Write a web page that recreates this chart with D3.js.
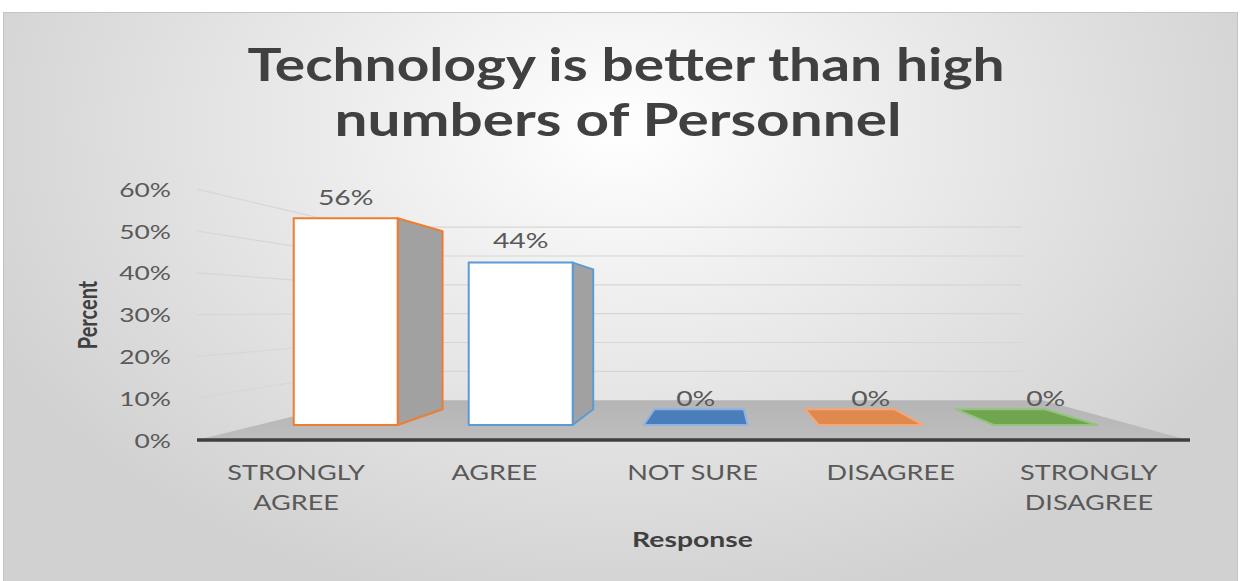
<!DOCTYPE html>
<html>
<head>
<meta charset="utf-8">
<script src="https://cdn.jsdelivr.net/npm/d3@7"></script>
<style>
  html, body { margin: 0; padding: 0; background: #ffffff; }
  svg { display: block; }
  text { font-family: Lato, "Open Sans", sans-serif; }
</style>
</head>
<body>
<svg id="chart" width="1241" height="581"></svg>
<script>
// ---- data ----
const categories = ["STRONGLY AGREE", "AGREE", "NOT SURE", "DISAGREE", "STRONGLY DISAGREE"];
const categoryLines = [["STRONGLY", "AGREE"], ["AGREE"], ["NOT SURE"], ["DISAGREE"], ["STRONGLY", "DISAGREE"]];
const percents = [0.56, 0.44, 0, 0, 0];
const valueLabels = ["56%", "44%", "0%", "0%", "0%"];
const yTicks = [0, 0.1, 0.2, 0.3, 0.4, 0.5, 0.6];
const barStrokes = ["#ED7D31", "#5B9BD5", "#8DB4E2", "#F4A677", "#93C47D"];
const barFills = ["#ffffff", "#ffffff", "#4A7EBB", "#E0894F", "#6FA54F"];
const titleLines = ["Technology is better than high", "numbers of Personnel"];
const xTitle = "Response";
const yTitle = "Percent";

// ---- layout ----
const W = 1241, H = 581;
const SX = 1.32;            // horizontal stretch applied to all text
const VX = 720, VY = 311.6; // vanishing point of the 3-D view
const S_WALL = 0.69;        // depth of the back wall
const S_FRONT = 0.883;      // depth of the bar fronts
const S_BACK = 0.76;        // depth of the bar backs
const S_LABEL = 0.86;
const titleWidths = [757, 567];

const svg = d3.select("#chart");

const x = d3.scaleBand().domain(categories).range([197, 1188]).padding(0);
const y = d3.scaleLinear().domain([0, 0.6]).range([440, 189.2]);
const fmt = d3.format(".0%");

// project a point (front-plane x, value, depth scale) onto the screen
function proj(X, v, s) {
  return [VX + s * (X - VX), VY + s * (y(v) - VY)];
}
const line = d3.line();

// ---- background ----
const defs = svg.append("defs");
const bg = defs.append("radialGradient").attr("id", "bgGrad")
  .attr("gradientUnits", "userSpaceOnUse")
  .attr("cx", 620).attr("cy", 130).attr("r", 700)
  .attr("gradientTransform", "translate(620,130) scale(1,0.7) translate(-620,-130)");
bg.append("stop").attr("offset", 0).attr("stop-color", "#ffffff");
bg.append("stop").attr("offset", 0.4).attr("stop-color", "#ececec");
bg.append("stop").attr("offset", 1).attr("stop-color", "#d1d1d1");

const floorGrad = defs.append("linearGradient").attr("id", "floorGrad")
  .attr("x1", 0).attr("y1", 0).attr("x2", 0).attr("y2", 1);
floorGrad.append("stop").attr("offset", 0).attr("stop-color", "#b5b5b5");
floorGrad.append("stop").attr("offset", 1).attr("stop-color", "#bdbdbd");

svg.append("rect").attr("x", 3.5).attr("y", 12.5).attr("width", 1234).attr("height", 570)
  .attr("fill", "url(#bgGrad)").attr("stroke", "#c4c4c4").attr("stroke-width", 1);

// ---- title ----
const title = svg.append("g");
titleLines.forEach((t, i) => {
  title.append("text")
    .attr("x", [626, 618][i]).attr("y", 81 + i * 55)
    .attr("text-anchor", "middle")
    .attr("font-size", 45).attr("font-weight", 700)
    .attr("textLength", titleWidths[i]).attr("lengthAdjust", "spacingAndGlyphs")
    .attr("fill", "#404040")
    .text(t);
});

// ---- floor ----
const [x0, x1] = x.range();
svg.append("path")
  .attr("d", line([proj(x0, 0, 1), proj(x1, 0, 1), proj(x1, 0, S_WALL), proj(x0, 0, S_WALL)]) + "Z")
  .attr("fill", "url(#floorGrad)");

// ---- gridlines: side wall + back wall ----
const grid = svg.append("g").attr("stroke", "#d6d6d6").attr("stroke-width", 1.2).attr("fill", "none");
yTicks.filter(v => v > 0).forEach(v => {
  grid.append("path").attr("d", line([proj(x0, v, 1), proj(x0, v, S_WALL), proj(x1 - 30, v, S_WALL)]));
});

// ---- bars ----
const barW = x.bandwidth() * 0.594;
const bars = svg.append("g");
categories.forEach((c, i) => {
  const v = percents[i];
  const X0 = x(c) + (x.bandwidth() - barW) / 2, X1 = X0 + barW;
  const g = bars.append("g").attr("stroke", barStrokes[i]).attr("stroke-width", 2)
    .attr("stroke-linejoin", "round");
  if (v === 0) {
    g.append("path")
      .attr("d", line([proj(X0, 0, S_FRONT), proj(X1, 0, S_FRONT), proj(X1, 0, S_BACK), proj(X0, 0, S_BACK)]) + "Z")
      .attr("fill", barFills[i]);
    return;
  }
  // visible side face
  const sideX = X1 < VX ? X1 : X0;
  g.append("path")
    .attr("d", line([proj(sideX, v, S_FRONT), proj(sideX, v, S_BACK), proj(sideX, 0, S_BACK), proj(sideX, 0, S_FRONT)]) + "Z")
    .attr("fill", "#a1a1a1");
  g.append("path")
    .attr("d", line([proj(X0, v, S_FRONT), proj(X1, v, S_FRONT), proj(X1, 0, S_FRONT), proj(X0, 0, S_FRONT)]) + "Z")
    .attr("fill", barFills[i]);
});

// ---- axis line ----
svg.append("path")
  .attr("d", line([proj(x0, 0, 1), proj(x1 + 2, 0, 1)]))
  .attr("stroke", "#3f3f3f").attr("stroke-width", 3.5);

// ---- value labels ----
categories.forEach((c, i) => {
  const cx = proj(x(c) + x.bandwidth() / 2, percents[i], S_FRONT)[0];
  const cy = proj(x(c) + x.bandwidth() / 2, percents[i], S_LABEL)[1] - 16;
  svg.append("text")
    .attr("transform", `translate(${cx},${cy}) scale(${SX},1)`)
    .attr("text-anchor", "middle").attr("font-size", 21.5).attr("fill", "#595959")
    .text(valueLabels[i]);
});

// ---- y tick labels ----
yTicks.forEach(v => {
  svg.append("text")
    .attr("transform", `translate(171,${y(v) + 7.5}) scale(${SX},1)`)
    .attr("text-anchor", "end").attr("font-size", 20).attr("fill", "#595959")
    .text(fmt(v));
});

// ---- category labels ----
categories.forEach((c, i) => {
  const cx = x(c) + x.bandwidth() / 2;
  categoryLines[i].forEach((t, j) => {
    svg.append("text")
      .attr("transform", `translate(${cx},${480 + j * 29.5}) scale(${SX},1)`)
      .attr("text-anchor", "middle").attr("font-size", 20.5).attr("fill", "#595959")
      .text(t);
  });
});

// ---- axis titles ----
svg.append("text")
  .attr("transform", `translate(${(x0 + x1) / 2},547) scale(${SX},1)`)
  .attr("text-anchor", "middle").attr("font-size", 21.5).attr("font-weight", 700)
  .attr("fill", "#404040").text(xTitle);

svg.append("text")
  .attr("transform", `translate(97,315) scale(${SX},1) rotate(-90)`)
  .attr("text-anchor", "middle").attr("font-size", 20).attr("font-weight", 700)
  .attr("fill", "#404040").text(yTitle);
</script>
</body>
</html>
